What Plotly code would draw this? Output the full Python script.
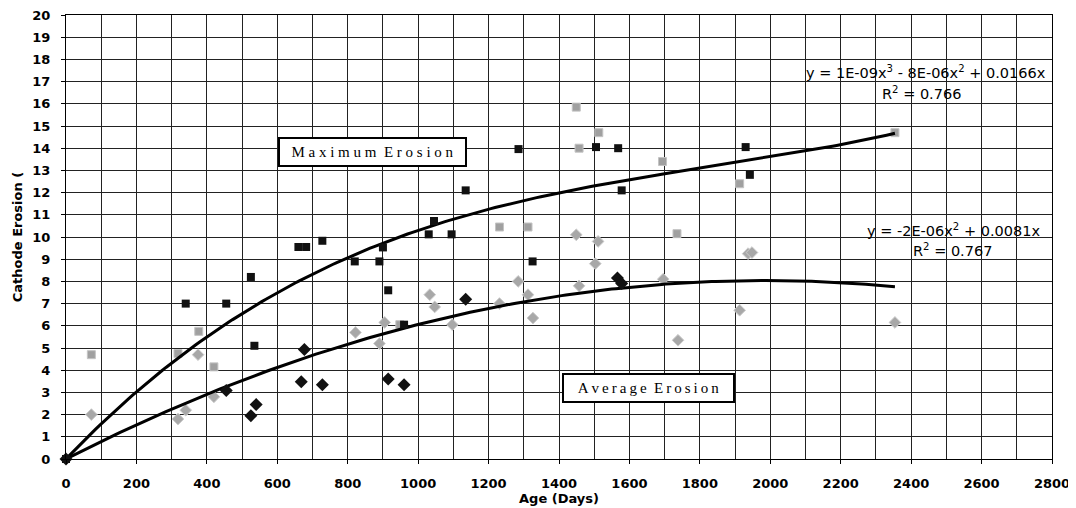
import numpy as np
import plotly.graph_objects as go

# Maximum erosion (black squares)
max_x = [0, 340, 455, 525, 535, 660, 682, 728, 820, 890, 900, 915, 960, 1030, 1045, 1095, 1135, 1285, 1325, 1505, 1568, 1578, 1930, 1942]
max_y = [0, 7.0, 7.0, 8.2, 5.1, 9.55, 9.55, 9.83, 8.9, 8.9, 9.53, 7.6, 6.05, 10.12, 10.72, 10.12, 12.1, 13.96, 8.9, 14.05, 14.0, 12.1, 14.05, 12.8]

# Average erosion (black diamonds)
avg_x = [0, 455, 525, 540, 668, 677, 728, 915, 960, 1135, 1566, 1578]
avg_y = [0, 3.08, 1.95, 2.45, 3.48, 4.93, 3.35, 3.6, 3.35, 7.2, 8.15, 7.9]

# Grey squares (second maximum data set)
gmax_x = [72, 318, 377, 420, 948, 1231, 1312, 1449, 1457, 1513, 1694, 1735, 1913, 2354]
gmax_y = [4.7, 4.75, 5.75, 4.15, 6.05, 10.45, 10.45, 15.85, 14.0, 14.7, 13.4, 10.15, 12.4, 14.7]

# Grey diamonds (second average data set)
gavg_x = [72, 318, 340, 375, 420, 822, 890, 905, 1033, 1047, 1097, 1231, 1284, 1312, 1326, 1449, 1457, 1503, 1511, 1696, 1738, 1913, 1937, 1948, 2354]
gavg_y = [2.0, 1.8, 2.2, 4.7, 2.8, 5.7, 5.2, 6.15, 7.4, 6.85, 6.05, 7.0, 8.0, 7.4, 6.35, 10.1, 7.8, 8.8, 9.8, 8.1, 5.35, 6.7, 9.25, 9.3, 6.15]

# Trend line coefficients (highest power first, zero intercept)
max_coef = [1.4e-9, -7.7e-6, 0.0166, 0.0]
avg_coef = [-2.04e-6, 0.0081, 0.0]
trend_end = 2354

x_ticks = list(range(0, 2801, 200))
y_ticks = list(range(0, 21, 1))

eq_max = "y = 1E-09x<sup>3</sup> - 8E-06x<sup>2</sup> + 0.0166x"
r2_max = "R<sup>2</sup> = 0.766"
eq_avg = "y = -2E-06x<sup>2</sup> + 0.0081x"
r2_avg = "R<sup>2</sup> = 0.767"
label_max = "Maximum Erosion"
label_avg = "Average Erosion"

tx = np.linspace(0, trend_end, 200)

fig = go.Figure()
fig.add_trace(go.Scatter(x=gmax_x, y=gmax_y, mode="markers", cliponaxis=False,
                         marker=dict(symbol="square", size=8, color="#a0a0a0",
                                     line=dict(color="#c4c4c4", width=1))))
fig.add_trace(go.Scatter(x=gavg_x, y=gavg_y, mode="markers", cliponaxis=False,
                         marker=dict(symbol="diamond", size=9, color="#a8a8a8",
                                     line=dict(color="#cccccc", width=1))))
fig.add_trace(go.Scatter(x=tx, y=np.polyval(max_coef, tx), mode="lines",
                         line=dict(color="black", width=3)))
fig.add_trace(go.Scatter(x=tx, y=np.polyval(avg_coef, tx), mode="lines",
                         line=dict(color="black", width=3)))
fig.add_trace(go.Scatter(x=max_x, y=max_y, mode="markers", cliponaxis=False,
                         marker=dict(symbol="square", size=8, color="#111111")))
fig.add_trace(go.Scatter(x=avg_x, y=avg_y, mode="markers", cliponaxis=False,
                         marker=dict(symbol="diamond", size=10, color="#111111")))

ann_font = dict(family="DejaVu Sans", size=14.5, color="black")
fig.add_annotation(xref="x", yref="y", x=2790, y=17.45, text=eq_max,
                   showarrow=False, xanchor="right", font=ann_font)
fig.add_annotation(xref="x", yref="y", x=2548, y=16.5, text=r2_max,
                   showarrow=False, xanchor="right", font=ann_font)
fig.add_annotation(xref="x", yref="y", x=2773, y=10.3, text=eq_avg,
                   showarrow=False, xanchor="right", font=ann_font)
fig.add_annotation(xref="x", yref="y", x=2634, y=9.4, text=r2_avg,
                   showarrow=False, xanchor="right", font=ann_font)


def spaced(s, sep):
    words = s.split(" ")
    return "\u2002".join(sep.join(list(w)) for w in words)


box_font = dict(family="Liberation Serif, Times New Roman", size=15, color="black")
fig.add_annotation(xref="x", yref="y", x=871, y=13.85, text=spaced(label_max, " "),
                   showarrow=False, font=box_font, bgcolor="white", bordercolor="black",
                   borderwidth=2, borderpad=5, width=175, height=16, valign="bottom")
fig.add_annotation(xref="x", yref="y", x=1653, y=3.22, text=spaced(label_avg, "\u2009"),
                   showarrow=False, font=box_font, bgcolor="white", bordercolor="black",
                   borderwidth=2, borderpad=5, width=159, height=16, valign="bottom")

tick_font = dict(family="DejaVu Sans", size=13, color="black", weight="bold")
title_font = dict(family="DejaVu Sans", size=13, color="black", weight="bold")
# page body has an 8px margin; the figure is sized so the plot lands where the reference has it
fig.update_layout(
    width=1068, height=500,
    margin=dict(l=58, r=24, t=7, b=49),
    paper_bgcolor="white", plot_bgcolor="white",
    showlegend=False,
    xaxis=dict(range=[0, 2800], tickvals=x_ticks, showgrid=True, gridcolor="#222", gridwidth=1,
               minor=dict(dtick=100, showgrid=True, gridcolor="#222", gridwidth=1),
               showline=True, linecolor="black", linewidth=1, mirror=True,
               ticks="outside", ticklen=4, tickcolor="black", zeroline=False,
               tickfont=tick_font, ticklabelstandoff=8, automargin=False,
               ticklabeloverflow="allow",
               title=dict(text="Age (Days)", font=title_font, standoff=4)),
    yaxis=dict(range=[0, 20], tickvals=y_ticks, showgrid=True, gridcolor="#222", gridwidth=1,
               showline=True, linecolor="black", linewidth=1, mirror=True,
               ticks="outside", ticklen=4, tickcolor="black", zeroline=False,
               tickfont=tick_font, ticklabelstandoff=8, automargin=False,
               ticklabeloverflow="allow",
               title=dict(text="Cathode Erosion (", font=title_font, standoff=6)),
)

fig.write_html("out.html")
